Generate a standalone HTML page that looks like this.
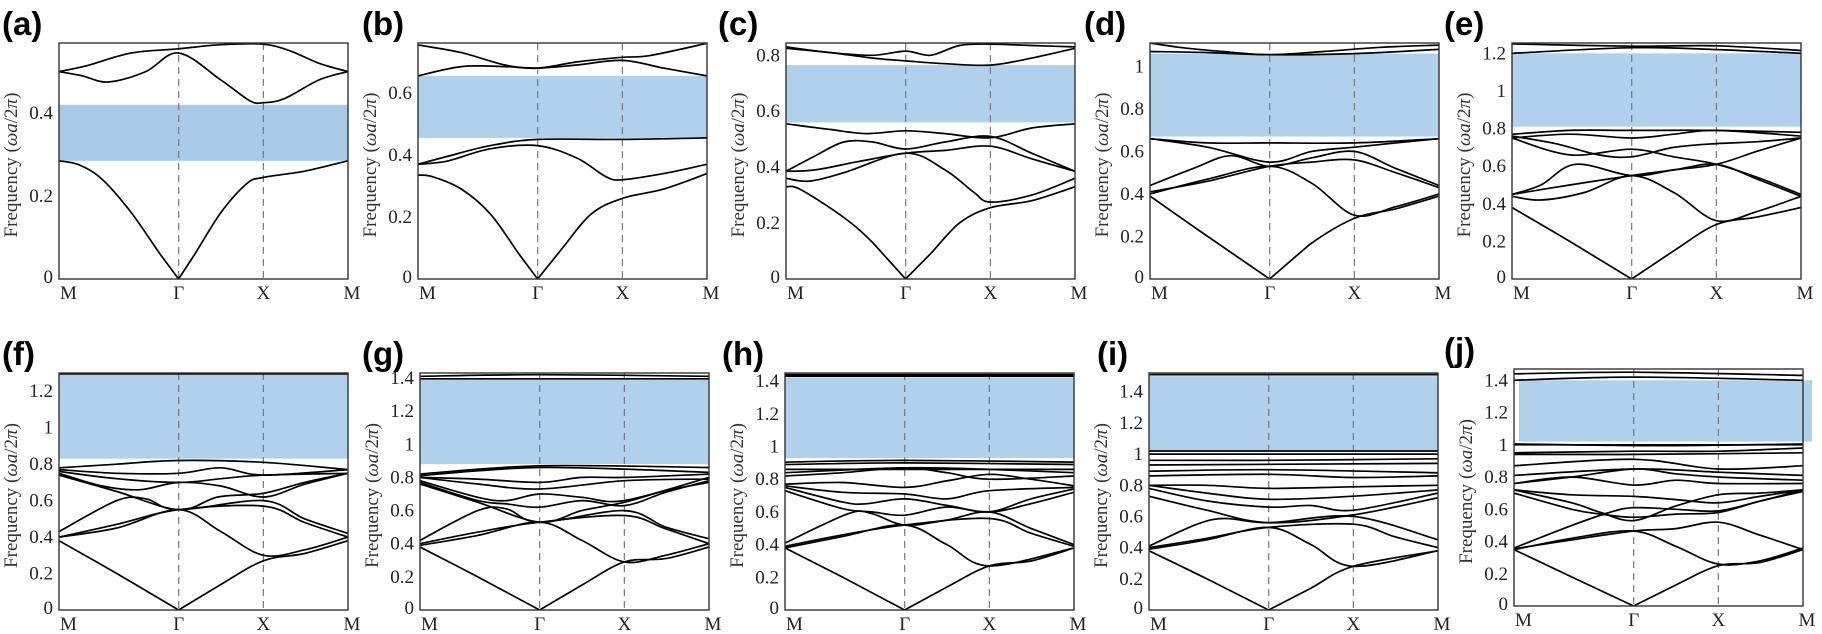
<!DOCTYPE html>
<html><head><meta charset="utf-8">
<style>
html,body{margin:0;padding:0;background:#fff;}
svg{display:block;}
.tk{font-family:"Liberation Serif",serif;font-size:19px;fill:#222;}
.yl{font-family:"Liberation Serif",serif;font-size:19px;fill:#333;}
.lb{font-family:"Liberation Sans",sans-serif;font-size:33px;font-weight:bold;fill:#000;}
</style></head>
<body>
<svg id="s" width="1822" height="634" viewBox="0 0 1822 634" xmlns="http://www.w3.org/2000/svg"></svg>
<script>
const S=document.getElementById('s');
const NS='http://www.w3.org/2000/svg';
function el(n,a,t){const e=document.createElementNS(NS,n);for(const k in a)e.setAttribute(k,a[k]);if(t!==undefined)e.textContent=t;S.appendChild(e);return e;}
const W=289;
const P=[
{l:'(a)',lx:2,x:59,y0:43,y1:279,max:0.569,ticks:[0,0.2,0.4],gap:[0.285,0.42],gc:'#a9c9e8',bands:[
[[0,.285],[.07,.275],[.15,.24],[.25,.16],[.35,.06],[.414,0],[.47,.06],[.56,.16],[.65,.23],[.707,.245],[.85,.26],[1,.285]],
[[0,.5],[.08,.49],[.17,.475],[.3,.5],[.414,.545],[.56,.48],[.66,.43],[.707,.425],[.78,.435],[.9,.48],[1,.5]],
[[0,.5],[.1,.515],[.25,.545],[.414,.555],[.56,.565],[.707,.566],[.8,.55],[.9,.52],[1,.5]]]},
{l:'(b)',lx:362,x:418,y0:43,y1:279,max:0.761,ticks:[0,0.2,0.4,0.6],gap:[0.455,0.655],bands:[
[[0,.335],[.05,.33],[.15,.29],[.25,.21],[.35,.08],[.414,0],[.5,.1],[.6,.21],[.707,.26],[.85,.29],[1,.34]],
[[0,.37],[.1,.38],[.25,.42],[.414,.43],[.55,.39],[.65,.33],[.707,.32],[.85,.34],[1,.37]],
[[0,.37],[.1,.395],[.25,.43],[.414,.45],[.707,.45],[1,.455]],
[[0,.655],[.15,.685],[.3,.685],[.414,.68],[.55,.69],[.707,.705],[.85,.68],[1,.655]],
[[0,.755],[.15,.73],[.3,.69],[.414,.68],[.55,.7],[.707,.715],[.8,.72],[1,.76]]]},
{l:'(c)',lx:718,x:786,y0:43,y1:279,max:0.844,ticks:[0,0.2,0.4,0.6,0.8],gap:[0.56,0.765],bands:[
[[0,.33],[.05,.32],[.2,.22],[.3,.13],[.414,0],[.5,.09],[.6,.2],[.707,.255],[.85,.28],[1,.33]],
[[0,.36],[.08,.35],[.2,.38],[.414,.45],[.55,.39],[.65,.31],[.707,.275],[.85,.3],[1,.36]],
[[0,.385],[.1,.39],[.25,.42],[.414,.45],[.55,.46],[.707,.475],[.85,.43],[1,.385]],
[[0,.385],[.1,.44],[.2,.49],[.3,.49],[.414,.465],[.55,.49],[.707,.51],[.85,.45],[1,.385]],
[[0,.555],[.15,.535],[.28,.52],[.414,.53],[.55,.52],[.707,.505],[.85,.54],[1,.555]],
[[0,.825],[.15,.81],[.3,.79],[.414,.78],[.55,.77],[.707,.765],[.85,.79],[1,.825]],
[[0,.83],[.15,.81],[.3,.8],[.414,.815],[.5,.8],[.6,.835],[.707,.84],[.85,.835],[1,.83]]]},
{l:'(d)',lx:1084,x:1150,y0:43,y1:279,max:1.11,ticks:[0,0.2,0.4,0.6,0.8,1],gap:[0.67,1.06],bands:[
[[0,.39],[.2,.2],[.414,0],[.55,.16],[.707,.285],[.85,.33],[1,.39]],
[[0,.4],[.2,.47],[.414,.53],[.56,.45],[.707,.3],[.85,.34],[1,.4]],
[[0,.41],[.2,.46],[.414,.53],[.56,.55],[.707,.56],[.85,.5],[1,.43]],
[[0,.44],[.15,.52],[.28,.58],[.414,.53],[.56,.57],[.707,.6],[.85,.52],[1,.44]],
[[0,.66],[.2,.62],[.414,.55],[.56,.6],[.707,.62],[.85,.64],[1,.66]],
[[0,.66],[.2,.64],[.414,.64],[.707,.64],[1,.66]],
[[0,1.07],[.2,1.065],[.414,1.055],[.707,1.06],[1,1.08]],
[[0,1.11],[.1,1.09],[.25,1.07],[.414,1.055],[.6,1.07],[.8,1.09],[1,1.1]]]},
{l:'(e)',lx:1444,x:1512,y0:43,y1:279,max:1.255,ticks:[0,0.2,0.4,0.6,0.8,1,1.2],gap:[0.81,1.2],bands:[
[[0,.38],[.2,.2],[.414,0],[.56,.15],[.707,.29],[.85,.33],[1,.38]],
[[0,.44],[.1,.42],[.25,.46],[.414,.55],[.56,.46],[.707,.31],[.85,.36],[1,.44]],
[[0,.45],[.2,.5],[.414,.55],[.56,.58],[.707,.61],[.85,.53],[1,.44]],
[[0,.45],[.1,.5],[.22,.61],[.414,.55],[.56,.58],[.707,.61],[.85,.68],[1,.75]],
[[0,.75],[.2,.66],[.414,.69],[.56,.65],[.707,.61],[.85,.54],[1,.45]],
[[0,.76],[.15,.72],[.3,.66],[.414,.65],[.56,.7],[.707,.72],[.85,.73],[1,.75]],
[[0,.75],[.2,.77],[.414,.75],[.56,.77],[.707,.79],[1,.76]],
[[0,.77],[.2,.79],[.414,.79],[.707,.79],[1,.78]],
[[0,1.2],[.414,1.23],[.707,1.22],[1,1.2]],
[[0,1.25],[.414,1.238],[.707,1.24],[1,1.215]]]},
{l:'(f)',lx:2,x:59,y0:373,y1:610,max:1.30,ticks:[0,0.2,0.4,0.6,0.8,1,1.2],gap:[0.83,1.29],bands:[
[[0,.38],[.2,.2],[.414,0],[.56,.14],[.707,.27],[.85,.31],[1,.38]],
[[0,.4],[.2,.45],[.414,.55],[.56,.43],[.707,.3],[.85,.33],[1,.4]],
[[0,.4],[.2,.47],[.414,.55],[.707,.57],[.85,.48],[1,.4]],
[[0,.43],[.2,.6],[.3,.61],[.414,.55],[.707,.6],[.85,.5],[1,.42]],
[[0,.74],[.2,.65],[.414,.55],[.55,.62],[.707,.64],[.85,.7],[1,.75]],
[[0,.75],[.15,.68],[.28,.66],[.414,.70],[.56,.68],[.707,.62],[.85,.69],[1,.75]],
[[0,.76],[.2,.72],[.414,.70],[.56,.72],[.707,.74],[1,.75]],
[[0,.77],[.2,.75],[.414,.75],[.56,.78],[.707,.74],[1,.77]],
[[0,.78],[.2,.8],[.414,.82],[.707,.81],[1,.77]],
[[0,1.295],[1,1.295]]]},
{l:'(g)',lx:362,x:420,y0:373,y1:610,max:1.43,ticks:[0,0.2,0.4,0.6,0.8,1,1.2,1.4],gap:[0.88,1.39],bands:[
[[0,.38],[.2,.2],[.414,0],[.56,.15],[.707,.29],[.85,.31],[1,.38]],
[[0,.39],[.2,.45],[.414,.53],[.56,.42],[.707,.29],[.85,.33],[1,.4]],
[[0,.4],[.2,.47],[.414,.53],[.707,.57],[.85,.49],[1,.4]],
[[0,.42],[.2,.6],[.3,.61],[.414,.53],[.707,.6],[.85,.5],[1,.43]],
[[0,.76],[.2,.65],[.414,.53],[.56,.6],[.707,.65],[.85,.72],[1,.77]],
[[0,.77],[.2,.66],[.3,.64],[.414,.62],[.56,.66],[.707,.63],[.85,.71],[1,.78]],
[[0,.78],[.2,.68],[.3,.66],[.414,.7],[.56,.68],[.707,.66],[1,.8]],
[[0,.8],[.2,.76],[.414,.73],[.707,.78],[1,.79]],
[[0,.8],[.2,.79],[.414,.77],[.56,.8],[.707,.8],[1,.82]],
[[0,.81],[.2,.84],[.414,.86],[.707,.85],[1,.83]],
[[0,.82],[.414,.87],[1,.86]],
[[0,1.395],[1,1.395]],
[[0,1.41],[.414,1.42],[1,1.41]]]},
{l:'(h)',lx:722,x:785,y0:373,y1:610,max:1.45,ticks:[0,0.2,0.4,0.6,0.8,1,1.2,1.4],gap:[0.93,1.42],bands:[
[[0,.38],[.2,.2],[.414,0],[.56,.14],[.707,.27],[.85,.3],[1,.38]],
[[0,.38],[.2,.45],[.414,.52],[.56,.4],[.707,.27],[1,.38]],
[[0,.39],[.2,.46],[.414,.52],[.707,.56],[.85,.47],[1,.39]],
[[0,.41],[.22,.59],[.3,.59],[.414,.52],[.56,.55],[.707,.6],[.85,.5],[1,.4]],
[[0,.73],[.2,.62],[.3,.6],[.414,.58],[.56,.63],[.707,.6],[.85,.68],[1,.74]],
[[0,.75],[.2,.66],[.28,.65],[.414,.68],[.56,.64],[.707,.6],[.85,.65],[1,.72]],
[[0,.76],[.2,.72],[.414,.71],[.56,.68],[.707,.73],[1,.75]],
[[0,.77],[.2,.78],[.414,.75],[.56,.79],[.707,.83],[.85,.8],[1,.76]],
[[0,.82],[.2,.84],[.414,.87],[.56,.84],[.707,.8],[1,.82]],
[[0,.84],[.414,.87],[.707,.86],[1,.84]],
[[0,.86],[1,.86]],[[0,.89],[.414,.9],[1,.89]],[[0,.905],[.414,.915],[1,.905]],
[[0,1.43],[1,1.43]],[[0,1.44],[1,1.44]]]},
{l:'(i)',lx:1097,x:1149,y0:373,y1:610,max:1.52,ticks:[0,0.2,0.4,0.6,0.8,1,1.2,1.4],gap:[1.02,1.50],bands:[
[[0,.38],[.2,.2],[.414,0],[.56,.14],[.707,.28],[1,.38]],
[[0,.39],[.2,.45],[.414,.53],[.56,.42],[.707,.28],[1,.38]],
[[0,.4],[.2,.46],[.414,.53],[.707,.55],[.85,.47],[1,.4]],
[[0,.41],[.22,.58],[.414,.56],[.707,.6],[1,.45]],
[[0,.73],[.2,.64],[.414,.56],[.707,.61],[1,.72]],
[[0,.78],[.2,.7],[.414,.66],[.56,.67],[.707,.64],[1,.75]],
[[0,.8],[.2,.75],[.414,.71],[.707,.73],[1,.77]],
[[0,.8],[.2,.8],[.414,.78],[.707,.79],[1,.8]],
[[0,.86],[.414,.87],[.707,.85],[1,.86]],
[[0,.89],[.414,.9],[1,.88]],[[0,.93],[1,.94]],[[0,.96],[.414,.96],[1,.97]],
[[0,1.0],[1,1.0]],[[0,1.02],[1,1.02]],[[0,1.51],[1,1.51]]]},
{l:'(j)',lx:1444,x:1514,y0:369,y1:606,max:1.47,ticks:[0,0.2,0.4,0.6,0.8,1,1.2,1.4],gap:[1.02,1.40],jgap:true,bands:[
[[0,.35],[.2,.18],[.414,0],[.56,.13],[.707,.25],[.85,.27],[1,.35]],
[[0,.35],[.2,.42],[.414,.465],[.56,.37],[.707,.26],[.85,.28],[1,.36]],
[[0,.355],[.2,.41],[.414,.465],[.56,.48],[.707,.52],[.85,.44],[1,.35]],
[[0,.36],[.2,.5],[.33,.58],[.414,.61],[.56,.6],[.707,.59],[.85,.65],[1,.72]],
[[0,.7],[.2,.6],[.3,.57],[.414,.55],[.56,.57],[.707,.58],[.85,.65],[1,.71]],
[[0,.72],[.2,.64],[.3,.58],[.414,.53],[.56,.62],[.707,.69],[.85,.7],[1,.72]],
[[0,.72],[.2,.69],[.414,.68],[.56,.66],[.707,.64],[.85,.68],[1,.72]],
[[0,.76],[.2,.8],[.414,.75],[.56,.78],[.707,.76],[1,.76]],
[[0,.76],[.2,.8],[.414,.85],[.56,.82],[.707,.8],[1,.78]],
[[0,.81],[.414,.85],[.707,.83],[1,.81]],
[[0,.87],[.414,.91],[.707,.85],[1,.87]],
[[0,.94],[.414,.94],[1,.95]],[[0,.95],[.414,.96],[.707,.96],[1,.98]],
[[0,1.0],[1,1.0]],[[0,1.005],[.5,.995],[1,1.005]],
[[0,1.4],[.414,1.42],[1,1.4]],[[0,1.44],[.414,1.45],[1,1.43]]]}
];
let cid=0;
P.forEach(p=>{
  const h=p.y1-p.y0, X=t=>p.x+t*W, Y=v=>p.y1-v/p.max*h;
  const id='c'+(cid++);
  const d=el('clipPath',{id:id});
  const r=document.createElementNS(NS,'rect');
  r.setAttribute('x',p.x);r.setAttribute('y',p.y0);r.setAttribute('width',W);r.setAttribute('height',h);d.appendChild(r);
  if(p.jgap){el('rect',{x:p.x+5,y:Y(p.gap[1]),width:W+4,height:Y(p.gap[0])-Y(p.gap[1]),fill:'#b0d0ec'});}
  else el('rect',{x:p.x,y:Y(p.gap[1]),width:W,height:Y(p.gap[0])-Y(p.gap[1]),fill:p.gc||'#b0d0ec'});
  [0.4142,0.7071].forEach(t=>el('line',{x1:X(t),x2:X(t),y1:p.y0,y2:p.y1,stroke:'#777','stroke-width':1.2,'stroke-dasharray':'7,5'}));
  const g=el('g',{'clip-path':'url(#'+id+')',fill:'none',stroke:'#000','stroke-width':1.7,'stroke-linejoin':'round'});
  p.bands.forEach(b=>{
    const pts=b.map(q=>[X(q[0]),Y(q[1])]);
    let s='M'+pts[0][0].toFixed(1)+','+pts[0][1].toFixed(1);
    for(let i=0;i<pts.length-1;i++){
      const p0=pts[i-1]||pts[i],p1=pts[i],p2=pts[i+1],p3=pts[i+2]||p2;
      const k=(b[i+1][1]===0||b[i][1]===0)?0:1/6;
      const c1=[p1[0]+(p2[0]-p0[0])*k,p1[1]+(p2[1]-p0[1])*k];
      const c2=[p2[0]-(p3[0]-p1[0])*k,p2[1]-(p3[1]-p1[1])*k];
      s+='C'+c1.map(v=>v.toFixed(1))+' '+c2.map(v=>v.toFixed(1))+' '+p2[0].toFixed(1)+','+p2[1].toFixed(1);
    }
    const e=document.createElementNS(NS,'path');e.setAttribute('d',s);g.appendChild(e);
  });
  el('rect',{x:p.x,y:p.y0,width:W,height:h,fill:'none',stroke:'#333','stroke-width':1.4});
  p.ticks.forEach(v=>{
    const txt=(v===0?'0':(v===1?'1':v.toFixed(1)));
    el('text',{x:p.x-6,y:Y(v)+(v===0?4:6),'text-anchor':'end',class:'tk'},txt);
  });
  const ly=p.y1+20;
  [['M',0.02,'start'],['Γ',0.4142,'middle'],['X',0.7071,'middle'],['M',1.0,'middle']].forEach(a=>{
    el('text',{x:a[1]===0.02?p.x+1:X(a[1])+(a[1]===1?4:0),y:ly,'text-anchor':a[2],class:'tk'},a[0]);
  });
  const yc=(p.y0+p.y1)/2+4, xl=p.x-42;
  const t=el('text',{x:xl,y:yc,'text-anchor':'middle',class:'yl',transform:'rotate(-90 '+xl+' '+yc+')'});
  t.innerHTML='Frequency (<tspan font-style="italic">ωa</tspan>/2<tspan font-style="italic">π</tspan>)';
  el('text',{x:p.lx,y:p.y0-8,class:'lb'},p.l);
});
</script>
</body></html>
